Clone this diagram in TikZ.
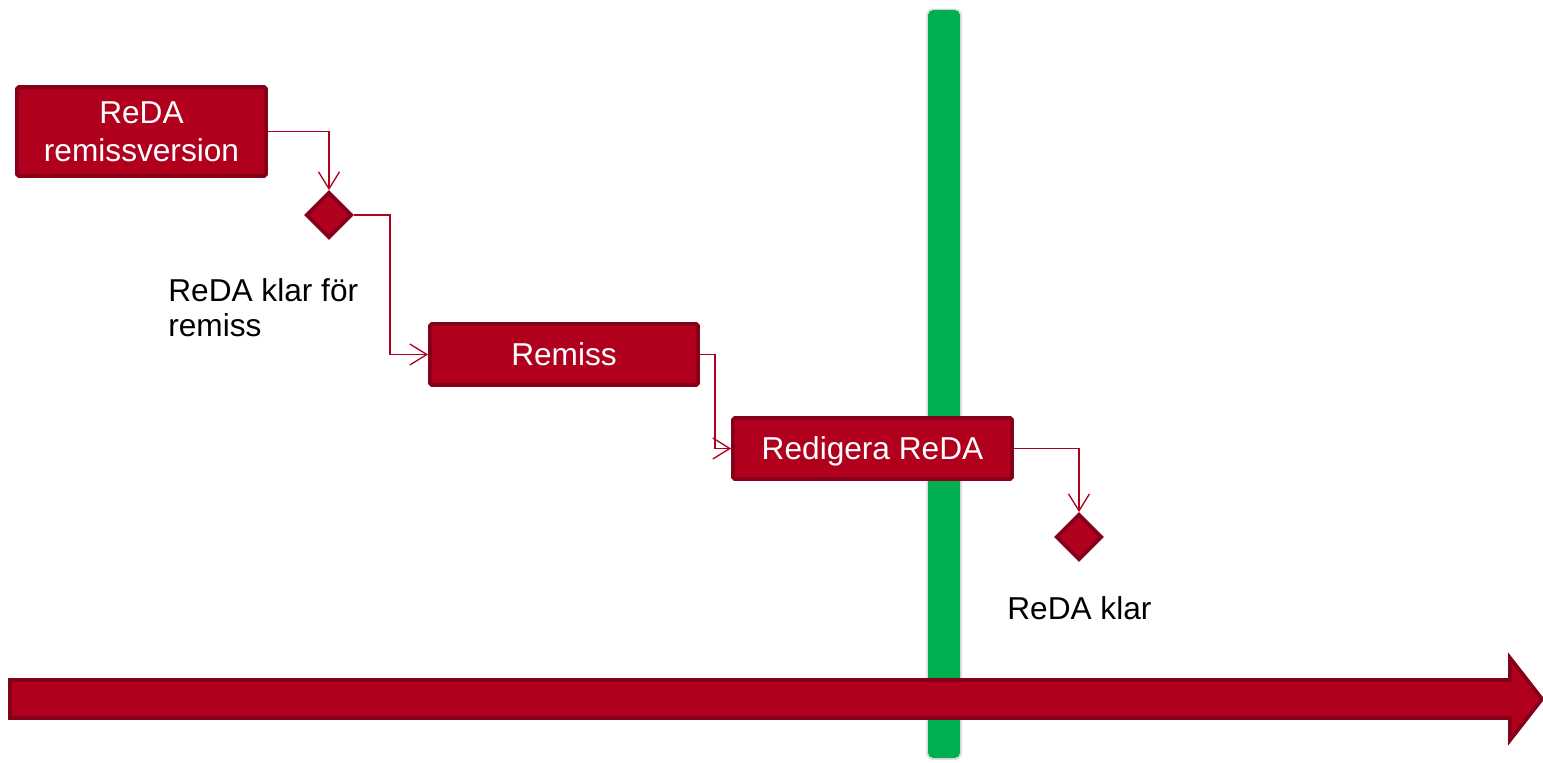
\documentclass[tikz,border=0pt]{standalone}
\usepackage{fontspec}
\setmainfont{Liberation Sans}
\usepackage{xcolor}
\usetikzlibrary{arrows.meta, shapes.geometric, positioning}
\definecolor{redafill}{HTML}{B0001E}
\definecolor{redaedge}{HTML}{87001A}
\definecolor{milegreen}{HTML}{00B050}
\tikzset{
  % connector arrow style
  carr/.style={
    line width = 0.75pt
    , draw=redafill
  },
}
\tikzset{
  %activity node style
  activity/.style={
    draw=redaedge
    , fill=redafill
    , text=white
    , line width=2.2pt
    , anchor=center
    , align=center
    , rounded corners=1pt
    , inner sep=0pt
    , font=\fontsize{18}{21.6}\selectfont
  },
  %decision node style
  gate/.style={
    diamond
    , draw=redaedge
    , fill=redafill
    , line width=2.2pt
    , inner sep=0pt
    , minimum size=0.92cm
  },
  %label below a gate
  note/.style={
    inner sep=0pt
    , align=left
    , font=\fontsize{18}{20}\selectfont
  },
}

\begin{document}
\begin{tikzpicture}[>={Straight Barb[length=3.4mm, width=4.2mm]}]
      \useasboundingbox (0,0) rectangle (30.86,-15.24);

      % milestone bar
      \fill[black, opacity=0.12, rounded corners=4pt] (18.52,-0.17) rectangle (19.24,-15.2);
      \fill[milegreen, rounded corners=3pt] (18.56,-0.2) rectangle (19.2,-15.16);

      \node[activity, minimum width=4.98cm, minimum height=1.78cm] (remver) at (2.83,-2.63) {ReDA\\remissversion};
      \node[gate] (klarrem) at (6.58,-4.30) {};
      \node[activity, minimum width=5.36cm, minimum height=1.22cm] (remiss) at (11.28,-7.09) {Remiss};
      \node[activity, minimum width=5.58cm, minimum height=1.22cm, text depth=0pt] (redig) at (17.45,-8.97) {Redigera ReDA};
      \node[gate] (klar) at (21.58,-10.74) {};

      \node[note, anchor=north west] (klarremtxt) at (3.36,-5.56) {ReDA klar för\\remiss};
      \node[note, anchor=base west] (klartxt) at (20.14,-12.38) {ReDA klar};

      \draw[carr,->] (remver.east) -| (klarrem.north);
      \draw[carr,->] (klarrem.east) -- ++(0.72,0) |- (remiss.west);
      \draw[carr,->] (remiss.east) -- ++(0.3,0) |- (redig.west);
      \draw[carr,->] (redig.east) -| (klar.north);

      % time line
      \draw[draw=redaedge, fill=redafill, line width=2.2pt]
        (0.2,-13.60) -- (30.2,-13.60) -- (30.2,-13.16) -- (30.84,-13.98)
        -- (30.2,-14.80) -- (30.2,-14.36) -- (0.2,-14.36) -- cycle;
    \end{tikzpicture}
\end{document}
